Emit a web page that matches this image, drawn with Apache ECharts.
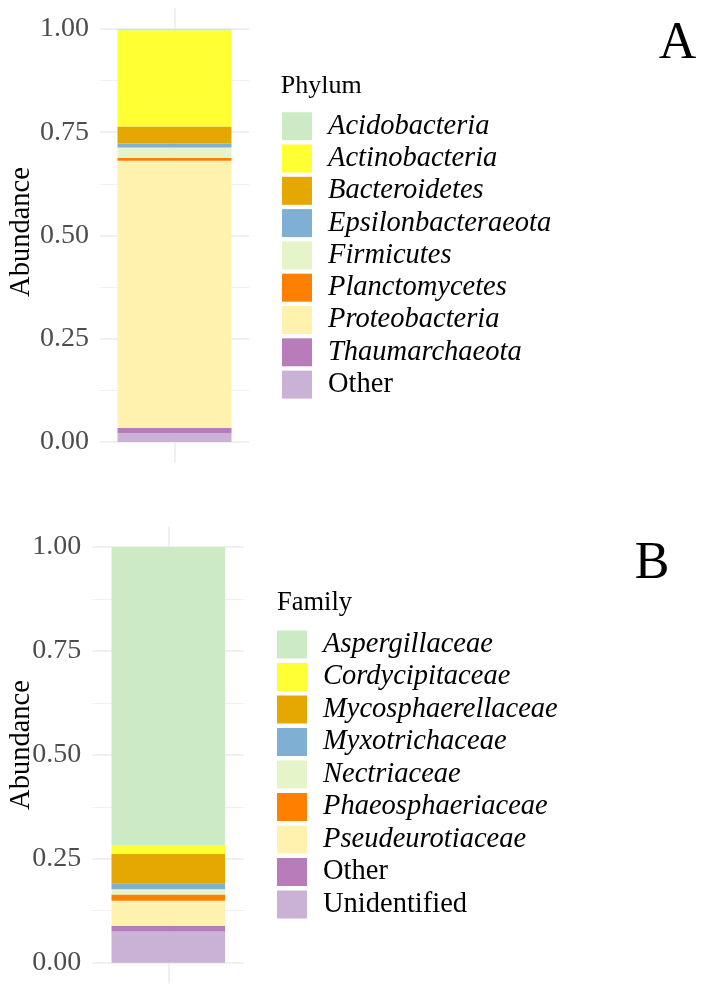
<!DOCTYPE html>
<html>
<head>
<meta charset="utf-8">
<script src="https://cdn.jsdelivr.net/npm/echarts@6/dist/echarts.min.js"></script>
<style>html,body{margin:0;padding:0;background:#fff}#c{width:701px;height:988px}</style>
</head>
<body>
<div id="c"></div>
<script>
const phylumNames = ['Acidobacteria','Actinobacteria','Bacteroidetes','Epsilonbacteraeota','Firmicutes','Planctomycetes','Proteobacteria','Thaumarchaeota','Other'];
const phylumValues = [0.003,0.233,0.041,0.010,0.025,0.007,0.647,0.013,0.021];
const familyNames = ['Aspergillaceae','Cordycipitaceae','Mycosphaerellaceae','Myxotrichaceae','Nectriaceae','Phaeosphaeriaceae','Pseudeurotiaceae','Other','Unidentified'];
const familyValues = [0.717,0.021,0.072,0.013,0.013,0.015,0.060,0.014,0.075];
const palette = ['#CCEBC5','#FFFF33','#E5A702','#7FB0D3','#E5F5C9','#FF7F00','#FFF2AE','#B87CBA','#C9B2D6'];
const yTicks = [0,0.25,0.5,0.75,1];
const yMinor = [0.125,0.375,0.625,0.875];
const sampleCat = [''];

const FONT = '"Liberation Serif","Times New Roman",serif';
const plain = ['Other','Unidentified'];

function yMajor(gi){
  return {type:'value', gridIndex:gi, min:-0.05, max:1.05,
    axisLine:{show:false}, axisTick:{show:false, customValues:yTicks},
    axisLabel:{customValues:yTicks, formatter:v=>v.toFixed(2), color:'#4D4D4D', fontFamily:FONT, fontSize:28, margin:11},
    splitLine:{show:true, lineStyle:{color:'#EBEBEB', width:1.5}}};
}
function yMin(gi){
  return {type:'value', gridIndex:gi, min:-0.05, max:1.05, position:'left',
    axisLine:{show:false}, axisTick:{show:false, customValues:yMinor}, axisLabel:{show:false},
    splitLine:{show:true, lineStyle:{color:'#F0F0F0', width:1}}};
}
function xCat(gi){
  return {type:'category', gridIndex:gi, data:sampleCat, axisLine:{show:false}, axisTick:{show:false}, axisLabel:{show:false}, splitLine:{show:false}};
}
function xVal(gi){
  return {type:'value', gridIndex:gi, min:-1, max:1, axisLine:{show:false}, axisTick:{show:false, customValues:[0]}, axisLabel:{show:false},
    splitLine:{show:true, lineStyle:{color:'#EBEBEB', width:1.5}}};
}
function makeSeries(names, values, xi, yi, stack, bw){
  const out = [];
  for(let k=names.length-1;k>=0;k--){
    out.push({type:'bar', name:names[k], xAxisIndex:xi, yAxisIndex:yi, stack:stack, barWidth:bw,
      itemStyle:{color:palette[k]}, data:[values[k]], emphasis:{disabled:true}});
  }
  return out;
}
function legend(names, left, top, gap){
  return {orient:'vertical', left:left, top:top, padding:0, itemWidth:30, itemHeight:28, itemGap:gap, icon:'rect', selectedMode:false,
    data:names.map((n,k)=>({name:n, itemStyle:{color:palette[k]}})),
    formatter:n=>plain.indexOf(n)>=0 ? '{n|'+n+'}' : '{i|'+n+'}',
    textStyle:{fontFamily:FONT, fontSize:28.5, color:'#000', rich:{
      i:{fontFamily:FONT, fontSize:28.5, fontStyle:'italic', color:'#000', padding:[0,0,0,11], lineHeight:28},
      n:{fontFamily:FONT, fontSize:28.5, color:'#000', padding:[0,0,0,11], lineHeight:28}}}};
}
const chart = echarts.init(document.getElementById('c'));
chart.setOption({
  animation:false,
  grid:[{left:100, top:8.35, width:149, height:454.3},{left:92.3, top:526.2, width:152, height:457.3}],
  xAxis:[xCat(0), xVal(0), xCat(1), xVal(1)],
  yAxis:[yMajor(0), yMin(0), yMajor(1), yMin(1)],
  legend:[legend(phylumNames, 282, 111.7, 3.3), legend(familyNames, 277, 630, 3.5)],
  series:[].concat(makeSeries(phylumNames, phylumValues, 0, 0, 'A', 114), makeSeries(familyNames, familyValues, 2, 2, 'B', 113.6)),
  graphic:[
    {type:'text', x:22, y:232, rotation:Math.PI/2, style:{text:'Abundance', font:'28.5px '+FONT, fill:'#000', align:'center', verticalAlign:'middle'}},
    {type:'text', x:22, y:745, rotation:Math.PI/2, style:{text:'Abundance', font:'28.5px '+FONT, fill:'#000', align:'center', verticalAlign:'middle'}},
    {type:'text', x:280.7, y:86, style:{text:'Phylum', font:'26px '+FONT, fill:'#000', align:'left', verticalAlign:'middle'}},
    {type:'text', x:277, y:603, style:{text:'Family', font:'26.5px '+FONT, fill:'#000', align:'left', verticalAlign:'middle'}},
    {type:'text', x:677.5, y:44, style:{text:'A', font:'52px '+FONT, fill:'#000', align:'center', verticalAlign:'middle'}},
    {type:'text', x:652, y:564, style:{text:'B', font:'52px '+FONT, fill:'#000', align:'center', verticalAlign:'middle'}}
  ]
});
</script>
</body>
</html>
